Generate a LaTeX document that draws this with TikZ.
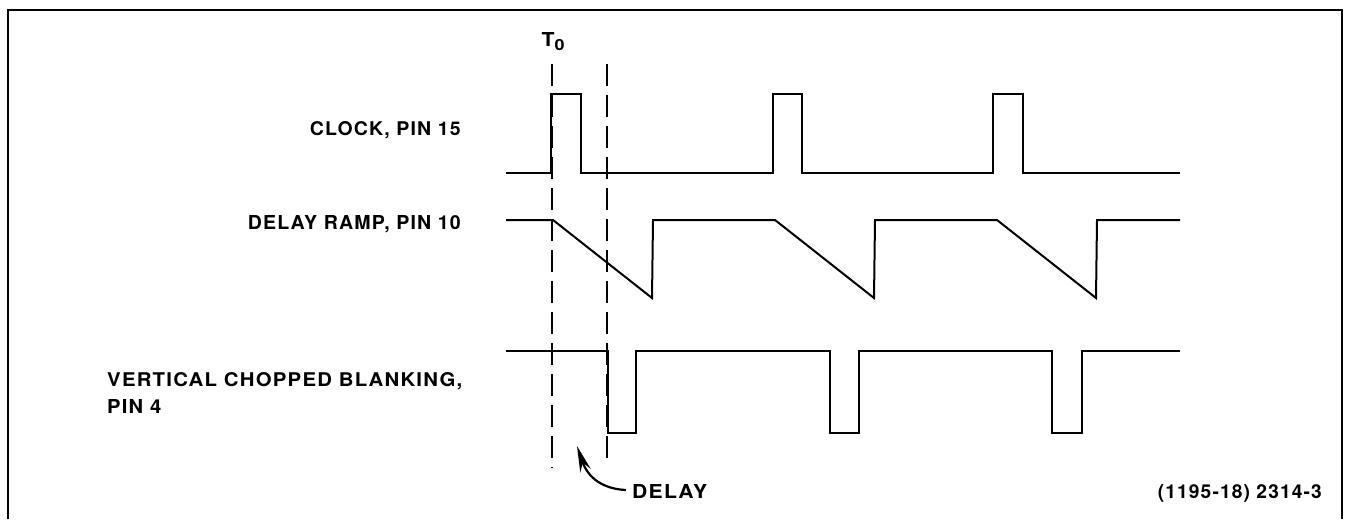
\documentclass[tikz,border=0pt]{standalone}
\usepackage{fontspec}
\setmainfont{TeX Gyre Heros}[LetterSpace=6]
\usetikzlibrary{arrows.meta}
\newcommand{\fitlbl}[2]{\resizebox{#1}{14pt}{\bfseries #2}}
\tikzset{
  wave/.style={line width=2pt, line join=miter},
  frameline/.style={line width=2pt},
  marker/.style={line width=1.8pt, dash pattern=on 22pt off 9pt},
  lbl/.style={font=\fontsize{19.5}{22}\selectfont\bfseries, inner sep=0pt},
}
\begin{document}
\begin{tikzpicture}[x=1pt,y=-1pt]
\useasboundingbox (0,0) rectangle (1348,519);
% frame
\draw[frameline] (8,519) -- (8,10) -- (1342,10) -- (1342,519);
% clock
\draw[wave] (506,173) -- (551,173) -- (551,94) -- (581,94) -- (581,173)
  -- (773,173) -- (773,94) -- (802,94) -- (802,173)
  -- (993,173) -- (993,94) -- (1023,94) -- (1023,173) -- (1180,173);
% delay ramp
\draw[wave] (506,220) -- (553,220) -- (652,298) -- (653,220)
  -- (775,220) -- (874,298) -- (875,220)
  -- (997,220) -- (1096,298) -- (1097,220) -- (1180,220);
% blanking
\draw[wave] (506,351) -- (608,351) -- (608,433) -- (636,433) -- (636,351)
  -- (830,351) -- (830,433) -- (859,433) -- (859,351)
  -- (1052,351) -- (1052,433) -- (1082,433) -- (1082,351) -- (1180,351);
% dashed markers
\coordinate (t0top) at (552,64);
\coordinate (t0bot) at (552,468);
\coordinate (d1top) at (607,64);
\coordinate (d1bot) at (607,465);
\draw[marker] (t0top) -- (t0bot);
\draw[marker] (d1top) -- (d1bot);
% labels
\node[lbl, anchor=south] (t0) at (553,51) {\fitlbl{13pt}{T}\raisebox{-4pt}{\resizebox{10pt}{11pt}{\bfseries 0}}};
\node[lbl, anchor=base east] (clk) at (461,135) {\fitlbl{151pt}{CLOCK, PIN 15}};
\node[lbl, anchor=base east] (ramp) at (461,229) {\fitlbl{213pt}{DELAY RAMP, PIN 10}};
\node[lbl, anchor=base west] (vcb) at (107,386) {\fitlbl{355pt}{VERTICAL CHOPPED BLANKING,}};
\node[lbl, anchor=base west] (pin4) at (107,413) {\fitlbl{54pt}{PIN 4}};
\node[lbl, anchor=base west] (delay) at (632,498) {\fitlbl{75pt}{DELAY}};
\node[lbl, anchor=base east] (fig) at (1322,498) {\resizebox{164pt}{!}{\fontsize{16}{18}\selectfont\bfseries (1195-18) 2314-3}};
\coordinate (arrtip) at (577,446);
\draw[line width=2.2pt, -{Stealth[length=26pt,width=11pt]}] (delay.west) ++(-6,-1) .. controls (603,489) and (588,478) .. (arrtip);
\end{tikzpicture}
\end{document}
